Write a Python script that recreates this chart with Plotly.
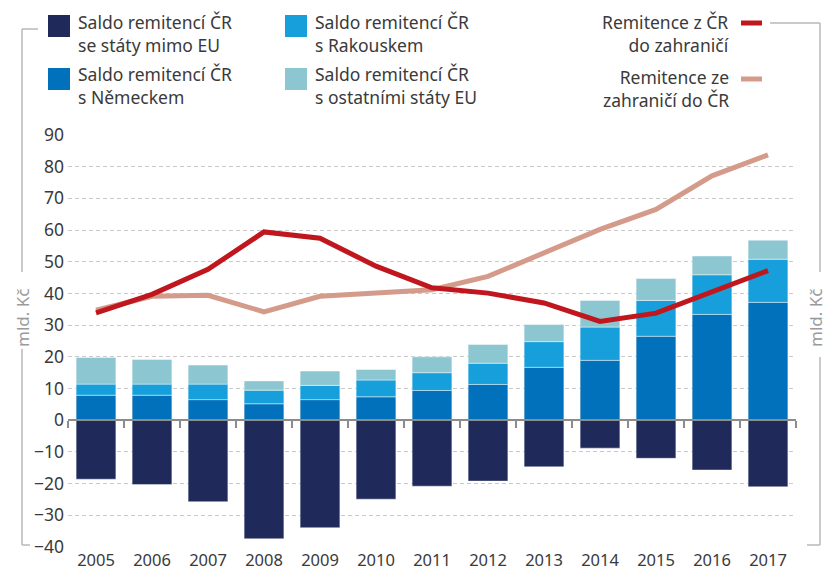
import plotly.graph_objects as go

years = [2005, 2006, 2007, 2008, 2009, 2010, 2011, 2012, 2013, 2014, 2015, 2016, 2017]
saldo_mimo_eu = [-18.6, -20.3, -25.7, -37.4, -33.9, -24.9, -20.8, -19.2, -14.7, -8.8, -12.0, -15.7, -21.0]
saldo_nemecko = [7.9, 7.9, 6.5, 5.2, 6.5, 7.4, 9.4, 11.3, 16.7, 18.9, 26.5, 33.4, 37.2]
saldo_rakousko = [3.5, 3.5, 4.9, 4.3, 4.5, 5.3, 5.6, 6.7, 8.1, 10.5, 11.3, 12.5, 13.6]
saldo_ostatni_eu = [8.4, 7.8, 6.0, 2.9, 4.5, 3.3, 5.0, 5.9, 5.4, 8.4, 6.9, 5.9, 6.0]
remitence_z_cr = [33.9, 39.7, 47.6, 59.4, 57.4, 48.6, 41.8, 40.1, 37.0, 31.2, 33.8, 40.7, 47.2]
remitence_do_cr = [34.7, 39.1, 39.4, 34.2, 39.1, 40.1, 41.2, 45.4, 52.8, 60.2, 66.5, 77.1, 83.7]
y_ticks = list(range(-40, 91, 10))
y_ticktext = [str(v).replace("-", "\u2212") for v in y_ticks]

names = {
    "mimo": "Saldo remitencí ČR<br>se státy mimo EU",
    "de": "Saldo remitencí ČR<br>s Německem",
    "at": "Saldo remitencí ČR<br>s Rakouskem",
    "eu": "Saldo remitencí ČR<br>s ostatními státy EU",
    "out": "Remitence z ČR<br>do zahraničí",
    "in": "Remitence ze<br>zahraničí do ČR",
}
C_MIMO = "#1F2A5A"
C_DE = "#0071BA"
C_AT = "#169FDA"
C_EU = "#8CC6D0"
C_OUT = "#C0171F"
C_IN = "#D49B8B"
GRAY = "#8C8C8C"
BRACKET = "#B9B9B9"
TXT = "#3A3A3A"
FONT = "Noto Sans"

W, H = 828, 569
L, R, T, B = 68, 32, 134, 21
YR = [-40.3, 90.3]
XR = [2004.5, 2017.5]


def fx(px):
    return (px - L) / (W - L - R)


def fy(py):
    return (H - B - py) / (H - T - B)


fig = go.Figure()
bar_line = dict(color="rgba(255,255,255,0.55)", width=0.8)
for vals, col, key in [
    (saldo_mimo_eu, C_MIMO, "mimo"),
    (saldo_nemecko, C_DE, "de"),
    (saldo_rakousko, C_AT, "at"),
    (saldo_ostatni_eu, C_EU, "eu"),
]:
    fig.add_trace(go.Bar(x=years, y=vals, name=names[key], marker=dict(color=col, line=bar_line),
                         width=0.71, showlegend=False))

fig.add_trace(go.Scatter(x=years, y=remitence_do_cr, name=names["in"], mode="lines",
                         line=dict(color=C_IN, width=5), showlegend=False))
fig.add_trace(go.Scatter(x=years, y=remitence_z_cr, name=names["out"], mode="lines",
                         line=dict(color=C_OUT, width=5), showlegend=False))
# helper trace to activate zero-level axis
fig.add_trace(go.Scatter(x=[years[0]], y=[0], xaxis="x2", mode="markers",
                         marker=dict(opacity=0), hoverinfo="skip", showlegend=False))

zero_pos = (0 - YR[0]) / (YR[1] - YR[0])
boundaries = [y - 0.5 for y in years] + [years[-1] + 0.5]

fig.update_layout(
    template="none",
    width=W, height=H,
    margin=dict(l=L, r=R, t=T, b=B, autoexpand=False),
    paper_bgcolor="white", plot_bgcolor="white",
    barmode="relative",
    font=dict(family=FONT, color=TXT, size=17),
    xaxis=dict(range=XR, tickvals=years, ticktext=[str(y) for y in years], showgrid=False,
               zeroline=False, showline=False, ticks="", automargin=False,
               tickfont=dict(size=16.5, color=TXT)),
    xaxis2=dict(range=XR, overlaying="x", anchor="free", position=zero_pos, side="bottom",
                tickvals=boundaries, ticks="outside", ticklen=7, tickwidth=1.5, tickcolor=GRAY,
                showline=True, linecolor=GRAY, linewidth=2, showticklabels=False,
                showgrid=False, zeroline=False, layer="above traces", automargin=False),
    yaxis=dict(range=YR, tickvals=y_ticks, ticktext=y_ticktext, showgrid=True,
               gridcolor="#C9C9C9", griddash="4px,3px", gridwidth=1, zeroline=False,
               showline=False, ticks="", automargin=False, ticklabelstandoff=3,
               tickfont=dict(size=17.5, color=TXT)),
    showlegend=False,
)

shapes = []
ann = []


def seg(x0, y0, x1, y1, color=BRACKET, width=1.5):
    shapes.append(dict(type="line", xref="paper", yref="paper", x0=fx(x0), y0=fy(y0),
                       x1=fx(x1), y1=fy(y1), line=dict(color=color, width=width)))


# brackets
seg(38, 29, 22, 29); seg(22, 29, 22, 272)
seg(22, 349, 22, 545); seg(22, 545, 30, 545)
seg(770, 23, 820, 23); seg(820, 23, 820, 272)
seg(820, 357, 820, 545); seg(820, 545, 807, 545)

for xc in (22, 815):
    ann.append(dict(text="mld. Kč", xref="paper", yref="paper", x=fx(xc), y=fy(318),
                    showarrow=False, textangle=-90, xanchor="center", yanchor="middle",
                    font=dict(size=17, color="#9A9A9A", family=FONT)))

# bar legend
for (sx, sy, col, key) in [(48, 15, C_MIMO, "mimo"), (48, 68, C_DE, "de"),
                           (285, 15, C_AT, "at"), (285, 68, C_EU, "eu")]:
    shapes.append(dict(type="rect", xref="paper", yref="paper", x0=fx(sx), x1=fx(sx + 22),
                       y0=fy(sy), y1=fy(sy + 22), fillcolor=col, line=dict(width=0)))
    ann.append(dict(text=names[key], xref="paper", yref="paper", x=fx(sx + 28), y=fy(sy + 18),
                    xanchor="left", yanchor="middle", align="left", showarrow=False,
                    font=dict(size=17.5, color=TXT, family=FONT)))

# line legend
for (ly, col, key) in [(23, C_OUT, "out"), (79, C_IN, "in")]:
    seg(741, ly, 762, ly, color=col, width=5)
    ann.append(dict(text=names[key], xref="paper", yref="paper", x=fx(731), y=fy(ly + 10),
                    xanchor="right", yanchor="middle", align="right", showarrow=False,
                    font=dict(size=17.5, color=TXT, family=FONT)))

fig.update_layout(shapes=shapes, annotations=ann)
fig.write_html("out.html", config={"displayModeBar": False},
               post_script="document.body.style.margin='0';document.body.style.overflow='hidden';")
